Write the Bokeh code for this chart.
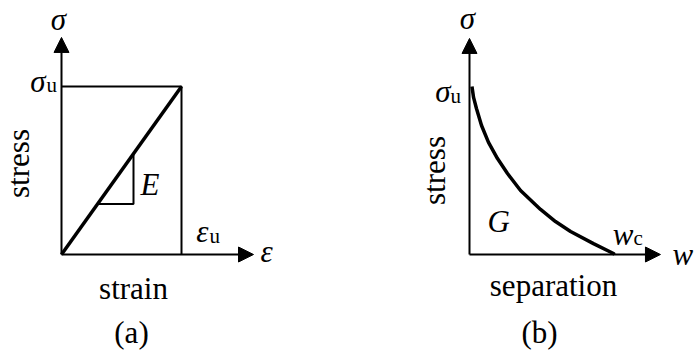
from math import pi

from bokeh.core.properties import value
from bokeh.embed import file_html
from bokeh.layouts import row
from bokeh.models import Arrow, NormalHead, Range1d
from bokeh.plotting import figure
from bokeh.resources import INLINE

# ---------------------------------------------------------------
# Data (normalised: strain by eps_u, separation by w_c, stress by sigma_u)
# ---------------------------------------------------------------
EPS_U = 1.0
SIGMA_U = 1.0
W_C = 1.0

# (a) linear-elastic stress-strain line
strain_a = [0.0, EPS_U]
stress_a = [0.0, SIGMA_U]

# slope triangle marking the modulus E
tri_strain = [0.30, 0.60, 0.60]
tri_stress = [0.30, 0.30, 0.60]

# (b) softening stress-separation curve
separation_b = [0.017, 0.028, 0.048, 0.083, 0.131, 0.193, 0.262, 0.352,
                0.490, 0.593, 0.697, 0.855, 0.993, 1.0]
stress_b = [1.000, 0.935, 0.869, 0.768, 0.667, 0.571, 0.482, 0.381,
            0.268, 0.196, 0.137, 0.065, 0.006, 0.0]

# ---------------------------------------------------------------
# Layout of each panel (pixels)
# ---------------------------------------------------------------
PANEL_W, PANEL_H = 347, 350
SERIF = value("Liberation Serif")
MAIN = "31px"
SUB = "21px"
LIFT = 9       # the SVG renderer sets text a little low; raise every label by this much
LIFT_ROT = 14  # same correction for the vertical labels


def make_panel(ox, oy, kx, ky):
    """Figure whose data origin sits at pixel (ox, oy) measured from the top-left."""
    p = figure(width=PANEL_W, height=PANEL_H, output_backend="svg",
               toolbar_location=None, x_axis_location=None, y_axis_location=None,
               x_range=Range1d(-ox / kx, (PANEL_W - ox) / kx),
               y_range=Range1d(-(PANEL_H - oy) / ky, oy / ky),
               min_border=0, outline_line_color=None,
               background_fill_color="white", border_fill_color="white")
    p.grid.visible = False

    def at(sx, sy):
        return (sx - ox) / kx, (oy - sy) / ky

    return p, at


def label(p, at, sx, sy, txt, size=MAIN, italic=False, align="left", angle=0.0):
    if angle:
        sx -= LIFT_ROT
    else:
        sy -= LIFT
    x, y = at(sx, sy)
    p.text(x=[x], y=[y], text=[txt], text_font=SERIF, text_font_size=size,
           text_font_style="italic" if italic else "normal",
           text_align=align, text_baseline="alphabetic", text_color="black",
           angle=angle)


def axes_arrows(p, x_tip, y_tip):
    for xe, ye in ((x_tip, 0.0), (0.0, y_tip)):
        p.add_layout(Arrow(end=NormalHead(size=15, fill_color="black", line_color="black",
                                          line_width=1),
                           x_start=0.0, y_start=0.0, x_end=xe, y_end=ye,
                           line_color="black", line_width=2))


# ---------------------------- (a) ----------------------------
pa, at_a = make_panel(61, 254, 120, 168)

# bounding rectangle at sigma_u / eps_u
pa.line(x=[strain_a[0], strain_a[1], strain_a[1]],
        y=[stress_a[1], stress_a[1], stress_a[0]], line_color="black", line_width=2)
pa.line(x=tri_strain, y=tri_stress, line_color="black", line_width=2)
pa.line(x=strain_a, y=stress_a, line_color="black", line_width=3.5)
axes_arrows(pa, 1.6, 1.292)

label(pa, at_a, 58, 28, "σ", italic=True, align="center")
label(pa, at_a, 45, 90, "σ", italic=True, align="right")
label(pa, at_a, 46, 93, "u", size=SUB)
label(pa, at_a, 32, 163, "stress", align="center", angle=pi / 2)
label(pa, at_a, 140, 193, "E", italic=True)
label(pa, at_a, 208, 240, "ε", italic=True, align="right")
label(pa, at_a, 209, 244, "u", size=SUB)
label(pa, at_a, 260, 260, "ε", italic=True)
label(pa, at_a, 133, 297, "strain", align="center")
label(pa, at_a, 131, 341, "(a)", align="center")

# ---------------------------- (b) ----------------------------
pb, at_b = make_panel(122, 254, 145, 168)
OFF = 347  # left edge of panel (b) within the whole picture

pb.line(x=separation_b, y=stress_b, line_color="black", line_width=3.5)
axes_arrows(pb, 1.317, 1.286)

label(pb, at_b, 467 - OFF, 27, "σ", italic=True, align="center")
label(pb, at_b, 450 - OFF, 100, "σ", italic=True, align="right")
label(pb, at_b, 450 - OFF, 104, "u", size=SUB)
label(pb, at_b, 448 - OFF, 170, "stress", align="center", angle=pi / 2)
label(pb, at_b, 487 - OFF, 230, "G", italic=True)
label(pb, at_b, 633 - OFF, 243, "w", italic=True, align="right")
label(pb, at_b, 633 - OFF, 246, "c", size=SUB)
label(pb, at_b, 672 - OFF, 263, "w", italic=True)
label(pb, at_b, 553 - OFF, 294, "separation", align="center")
label(pb, at_b, 539 - OFF, 341, "(b)", align="center")

layout = row(pa, pb)
open("out.html", "w").write(file_html(layout, INLINE))
